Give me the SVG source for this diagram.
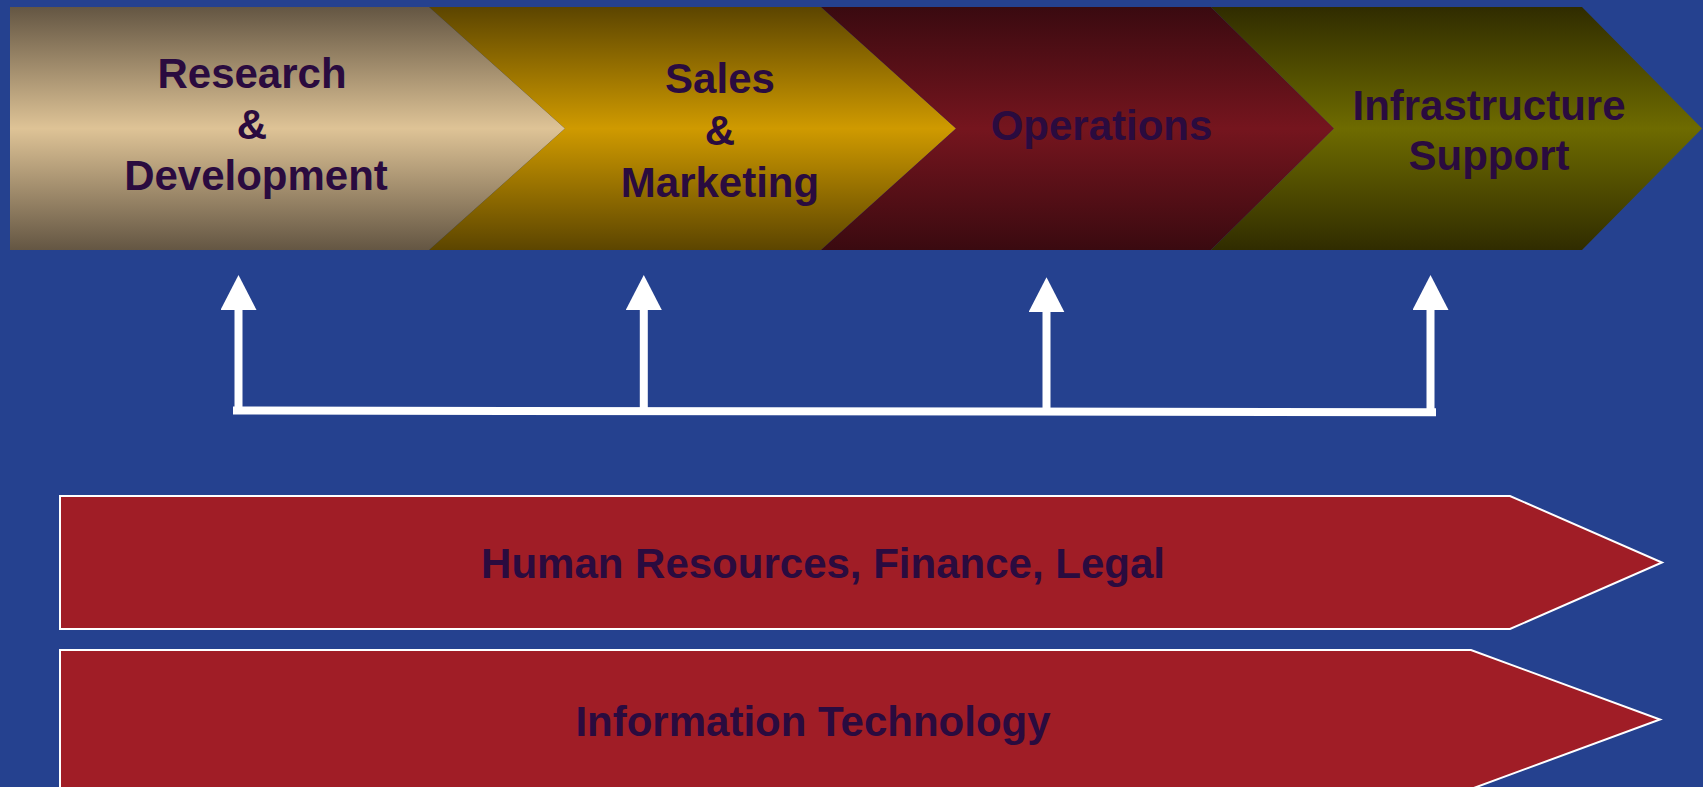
<svg xmlns="http://www.w3.org/2000/svg" width="1703" height="787" viewBox="0 0 1703 787">
  <defs>
    <linearGradient id="gRD" gradientUnits="userSpaceOnUse" x1="0" y1="7" x2="0" y2="250">
      <stop offset="0" stop-color="#645643"/>
      <stop offset="0.5" stop-color="#dec396"/>
      <stop offset="1" stop-color="#645643"/>
    </linearGradient>
    <linearGradient id="gSM" gradientUnits="userSpaceOnUse" x1="0" y1="7" x2="0" y2="250">
      <stop offset="0" stop-color="#5c4500"/>
      <stop offset="0.5" stop-color="#cf9a00"/>
      <stop offset="1" stop-color="#5c4500"/>
    </linearGradient>
    <linearGradient id="gOP" gradientUnits="userSpaceOnUse" x1="0" y1="7" x2="0" y2="250">
      <stop offset="0" stop-color="#3a0a10"/>
      <stop offset="0.5" stop-color="#75151e"/>
      <stop offset="1" stop-color="#3a0a10"/>
    </linearGradient>
    <linearGradient id="gIS" gradientUnits="userSpaceOnUse" x1="0" y1="7" x2="0" y2="250">
      <stop offset="0" stop-color="#302c00"/>
      <stop offset="0.5" stop-color="#6e6b00"/>
      <stop offset="1" stop-color="#302c00"/>
    </linearGradient>
    <marker id="head" viewBox="0 0 35 36" refX="25" refY="18" markerWidth="35" markerHeight="36" markerUnits="userSpaceOnUse" orient="auto">
      <path d="M0,0 L35,18 L0,36 Z" fill="#ffffff"/>
    </marker>
  </defs>
  <style>
    .lbl { font-family: "Liberation Sans", Arial, sans-serif; font-weight: bold; font-size: 42px; fill: #2a0b3f; text-anchor: middle; }
    .band { fill: #a01d26; stroke: #ffffff; stroke-width: 2; }
    .conn { stroke: #ffffff; stroke-width: 8; fill: none; }
  </style>
  <rect x="0" y="0" width="1703" height="787" fill="#25418f"/>

  <g id="node-rd">
    <polygon points="10,7 429,7 565,128.5 429,250 10,250" fill="url(#gRD)"/>
    <text class="lbl" x="252" y="88">Research</text>
    <text class="lbl" x="252" y="139">&amp;</text>
    <text class="lbl" x="256" y="190">Development</text>
  </g>
  <g id="node-sales">
    <polygon points="429,7 821,7 956,128.5 821,250 429,250 565,128.5" fill="url(#gSM)"/>
    <text class="lbl" x="720" y="93">Sales</text>
    <text class="lbl" x="720" y="145">&amp;</text>
    <text class="lbl" x="720" y="197">Marketing</text>
  </g>
  <g id="node-ops">
    <polygon points="821,7 1211,7 1334,128.5 1211,250 821,250 956,128.5" fill="url(#gOP)"/>
    <text class="lbl" x="1101.5" y="139.5">Operations</text>
  </g>
  <g id="node-infra">
    <polygon points="1211,7 1582,7 1702,128.5 1582,250 1211,250 1334,128.5" fill="url(#gIS)"/>
    <text class="lbl" x="1489" y="120">Infrastructure</text>
    <text class="lbl" x="1489" y="170">Support</text>
  </g>

  <g id="connectors">
    <line class="conn" x1="233" y1="410.5" x2="1436" y2="412.2" stroke-width="7.5"/>
    <line class="conn" x1="238.5" y1="411" x2="238.5" y2="285" marker-end="url(#head)"/>
    <line class="conn" x1="643.8" y1="411" x2="643.8" y2="285" marker-end="url(#head)"/>
    <line class="conn" x1="1046.5" y1="411" x2="1046.5" y2="287.3" marker-end="url(#head)"/>
    <line class="conn" x1="1430.5" y1="412" x2="1430.5" y2="285" marker-end="url(#head)"/>
  </g>

  <g id="node-hr">
    <polygon class="band" points="60,496 1510,496 1662,562.5 1510,629 60,629"/>
    <text class="lbl" x="823" y="578">Human Resources, Finance, Legal</text>
  </g>
  <g id="node-it">
    <polygon class="band" points="60,650 1471,650 1660,719.5 1471,789 60,789"/>
    <text class="lbl" x="813" y="736">Information Technology</text>
  </g>
</svg>
